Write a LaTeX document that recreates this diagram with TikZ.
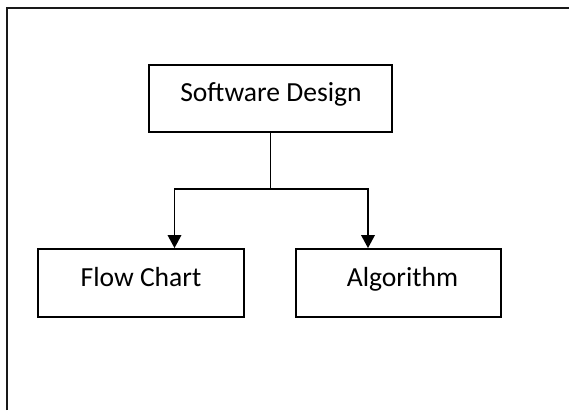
\documentclass[tikz,border=0pt]{standalone}
\usepackage{fontspec}
\setmainfont{Carlito}
\usetikzlibrary{arrows.meta}
\begin{document}
\begin{tikzpicture}[x=1pt,y=-1pt,
  boxstyle/.style={draw=black,line width=1.8pt,inner sep=0pt},
  labelstyle/.style={anchor=base,inner sep=0pt,font=\fontsize{27.6}{33}\selectfont},
  conn/.style={line width=1.8pt},
  arr/.style={conn,-{Triangle[length=13pt,width=13.5pt]}}]
\useasboundingbox (0,0) rectangle (569,410);
% frame (left and top edges)
\draw[line width=2pt,black!90] (6.5,410) -- (6.5,7.5) -- (569,7.5);
% boxes
\node[boxstyle,minimum width=243pt,minimum height=67pt] (top) at (270.5,98.5) {};
\node[boxstyle,minimum width=206pt,minimum height=68pt] (flow) at (141,283) {};
\node[boxstyle,minimum width=205pt,minimum height=68pt] (algo) at (398.5,283) {};
% labels
\node[labelstyle] (tl) at (271,101.7) {Software Design};
\node[labelstyle] (fl) at (141,286) {Flow Chart};
\node[labelstyle] (al) at (402.5,286) {Algorithm};
% connectors
\coordinate (j) at (270.5,189);
\coordinate (jl) at (174.5,189);
\coordinate (jr) at (368,189);
\draw[conn] (top.south) -- (j);
\draw[arr] (j) -- (jl) -- (jl |- flow.north);
\draw[arr] (j) -- (jr) -- (jr |- algo.north);
\end{tikzpicture}
\end{document}
